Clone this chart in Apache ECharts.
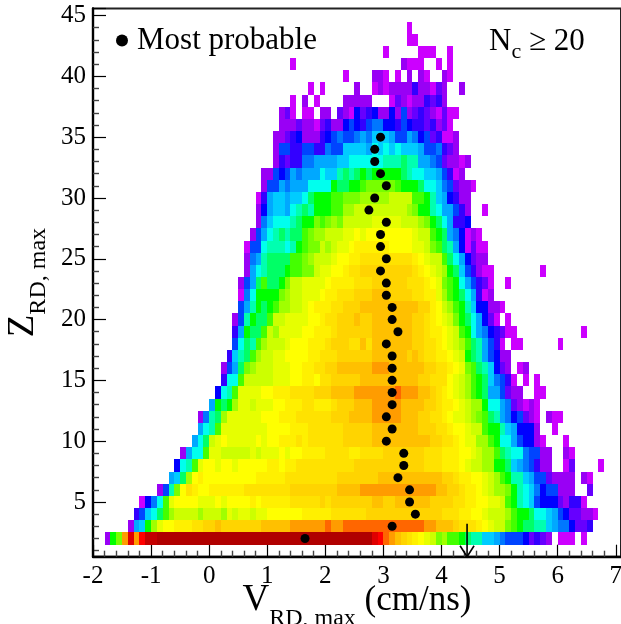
<!DOCTYPE html>
<html>
<head>
<meta charset="utf-8">
<style>html,body{margin:0;padding:0;background:#fff}#c{width:621px;height:624px}</style>
<script src="https://cdn.jsdelivr.net/npm/echarts@6/dist/echarts.min.js"></script>
</head>
<body>
<div id="c"></div>
<script>
// Colour-level letters, lowest to highest population; '.' is an empty bin.
const levelLetters = 'abcdefghijklmnopqrstuvwxyzABC';
const levelColors = ['#cc00ff','#9900f5','#6600ff','#3300ff','#0000ff','#0044ff','#0077ff','#00a8ff','#00ccff','#00ffee','#00ffb0','#00ff66','#00ff00','#44ff00','#77ff00','#a0ff00','#ccff00','#e6ff00','#ffff00','#fff000','#ffe200','#ffd400','#ffc000','#ff9c00','#ff6600','#ff0000','#e00000','#c40000','#b00000'];

// One list per Z bin: first V bin index (0 = -2.0 cm/ns, width 0.1), then letters.
const z44 = [54,'a'];
const z43 = [54,'aa'];
const z42 = [50,'a.....aaa..a'];
const z41 = [34,'a',53,'baaa..a.a'];
const z40 = [43,'a',48,'bba.a.b.ba..ba'];
const z39 = [37,'a.a',45,'b',48,'ababbbbdbbacb',63,'b'];
const z38 = [34,'a.b.a',43,'bbbbb',51,'acbabbdcdb'];
const z37 = [32,'bca.aa.bb.cbaecdebbebfbcdcbacaa'];
const z36 = [32,'bbbcbbacdbbefedfggeedfeddcdbca'];
const z35 = [31,'bbcdebbbdefgffghgiiihffhgefcdaab'];
const z34 = [31,'bffddffddgffiiiihjijijiiihffgdcb'];
const z33 = [31,'bdcddgghhhhiijjjjjjkkklkkhhgfcbbab'];
const z32 = [29,'bbfefhghhhjiiklklmlmmmmmlkjjiihfdab'];
const z31 = [29,'bffhghhhjjjjmllmmnooooonmmmljjigfcbba'];
const z30 = [28,'adhiihiijlmmmnnoooppppp'+'qqqqnnmkihedbb'];
const z29 = [28,'behiihjklkmmmnnpp'+'qqqqqqqqq'+'pommkjhhfdb'+'..a'];
const z28 = [28,'bgijjjklmmonopo'+'qqqqq'+'rrrrr'+'qqq'+'pomljhdde'];
const z27 = [27,'bfhjklkllnoppqqqrrsr'+'ssssssss'+'rqqnmlhgeaba'];
const z26 = [26,'affjkkkjkmnooqpqrrst'+'ttttt'+'ssss'+'rrqonlkheacaa'];
const z25 = [26,'bghkllllnnopqqqrsstt'+'uuuuuuuuu'+'tsrqqnljhecbb'];
const z24 = [26,'bhjklllmnnooqrrsstuu'+'vvvvvvvvv'+'utsrqpmlifdbaa',77,'a'];
const z23 = [25,'bfhlnllmoqqrrrrsttttu'+'uu'+'vvvvvv'+'uuu'+'tsronmjhfdca'+'..a'];
const z22 = [25,'agjmmmmopqqrrrsttuuuv'+'vv'+'www'+'vvvv'+'uu'+'ttrpnmljhdab'];
const z21 = [25,'fhkmlmnppqqrstttuuvvv'+'wwwwwwwwww'+'vv'+'tsqpnmkieebba'];
const z20 = [24,'bfkmllnqqrrrrsstuuvvvw'+'vv'+'wwwwwww'+'vv'+'utsrqomljheca'+'.a'];
const z19 = [24,'dhmllnqprrrrsstttuvvvv'+'vv'+'wwwwwww'+'vv'+'uttsrqnmjhgedcaa',84,'a'];
const z18 = [24,'fjlknpqqqrssstttuvvvuu'+'wu'+'wwwwwww'+'vv'+'uutsrqpnlkhfda'+'.aa',80,'a'];
const z17 = [23,'diklnpqqrrssssttuuuvvvvvv'+'wwwwww'+'vwv'+'uuttsrqmlkhfebb'];
const z16 = [22,'bfhlopqqqrrrssttuuvvwwwwww'+'xxx'+'wwwwww'+'vvuutsronlkiecb'+'.ab'];
const z15 = [22,'djjnqqqqqrrrssttsuuvvvvv'+'wwwwwwwwww'+'vv'+'uuusrqpnmligfda'+'.a.a'];
const z14 = [21,'ejknrrrrsstttuuuuvvvwwwwx'+'xxxxxx'+'y'+'xxx'+'wwvutsrqpnmlhhfcbb'+'..aa'];
const z13 = [20,'hmlmprrqrrrsstttuutttuvvv'+'www'+'xxxxx'+'wwww'+'vvuttsrqppmjjhgcbaba'];
const z12 = [18,'bgklp'+'rrrrrr'+'sss'+'ttt'+'uuuuuu'+'vvv'+'wwww'+'xxxxx'+'www'+'vv'+'uutsrrqponlkhgefcba'+'.baa'];
const z11 = [18,'hjkn'+'rrrrrrrr'+'ssss'+'ttt'+'uuuuuu'+'vvvvv'+'wwwwwwww'+'vvv'+'uutssrqqnmmkiheeeb'+'..a'];
const z10 = [17,'hjlqrs'+'rrrrr'+'srss'+'ttt'+'ut'+'uuuuuu'+'vvvvv'+'wwwwwwwwww'+'vv'+'uutsrrppnmjjhfeeba'+'...a'];
const z09 = [15,'bhjjnrr'+'qqqqq'+'rqrrrsrss'+'tttt'+'uuuu'+'tt'+'uuuu'+'vvvvvvv'+'uuu'+'ttt'+'ssrqppnlkjjgffbb'+'..ba'];
const z08 = [14,'ejknrssrssr'+'sssss'+'ttstt'+'uuuuuuuuuu'+'vvvvvvvvvvvv'+'uuuttt'+'srqqppmmlihgfdbb'+'..ac'+'....a'];
const z07 = [13,'hilpst'+'sssssssss'+'ttttt'+'uuuuuuuuu'+'vvvvvvv'+'wwwwwwwwwww'+'vvuttssrqpnmkkihffcbbbb'+'.ba'];
const z06 = [11,'bfkosutss'+'tttttt'+'uuuuuuuu'+'vvvvvvvv'+'wwww'+'xxxxxxxxxxxxx'+'wwvvuttsrqppomkjigeffbbb'+'..c'];
const z05 = [8,'aegjnr'+'ssss'+'rrr'+'sr'+'ssss'+'ts'+'ttttt'+'uuuuu'+'vu'+'vvvvvvv'+'wwvv'+'wwwwww'+'vvvv'+'uuttssrrqnmkjifeeecbdda'];
const z04 = [7,'dfijlnp'+'qqqq'+'p'+'qqq'+'prqrrqrr'+'ssssss'+'ttttt'+'uuuuuu'+'vvvvvvvvvvvvv'+'uuu'+'ttssrqqqpnmmljjihfeccbba'];
const z03 = [6,'bhimprsstttuuvvw'+'vvvvvvv'+'wwwww'+'xxxxxx'+'y'+'xx'+'yyyyyyyyyyyyyy'+'xx'+'www'+'vuuutsrqqonmllkkihggeccd'];
const z02 = [2,'bmoxAxzBB'+'CCCCCCCCCCCCCCCCCCCCCCCCCCCCCCCCCCCCC'+'Azyxwvutsrqopnnmlkkiihgfffecdcb.aaa.a'];
const zRows = [[2,z02],[3,z03],[4,z04],[5,z05],[6,z06],[7,z07],[8,z08],[9,z09],[10,z10],[11,z11],[12,z12],[13,z13],[14,z14],[15,z15],[16,z16],[17,z17],[18,z18],[19,z19],[20,z20],[21,z21],[22,z22],[23,z23],[24,z24],[25,z25],[26,z26],[27,z27],[28,z28],[29,z29],[30,z30],[31,z31],[32,z32],[33,z33],[34,z34],[35,z35],[36,z36],[37,z37],[38,z38],[39,z39],[40,z40],[41,z41],[42,z42],[43,z43],[44,z44]];

// Most probable V per Z bin
const probableZ = [2,3,4,5,6,7,8,9,10,11,12,13,14,15,16,17,18,19,20,21,22,23,24,25,26,27,28,29,30,31,32,33,34,35];
const probableV = [1.65,3.15,3.55,3.45,3.45,3.25,3.35,3.35,3.05,3.15,3.05,3.15,3.15,3.15,3.15,3.15,3.05,3.25,3.15,3.15,3.05,3.05,2.95,3.05,2.95,2.95,3.05,2.75,2.85,3.05,2.95,2.85,2.85,2.95];
const arrowV = 4.44;
const arrowZTop = 3.2;

const cells = [];
zRows.forEach(([z, row]) => {
  for (let s = 0; s < row.length; s += 2) {
    const start = row[s], letters = row[s + 1];
    for (let k = 0; k < letters.length; k++) {
      if (letters[k] === '.') continue;
      cells.push([Math.round((start + k) - 20) / 10, z, levelLetters.indexOf(letters[k])]);
    }
  }
});

const serif = '"Liberation Serif", "Times New Roman", serif';
const chart = echarts.init(document.getElementById('c'), null, {renderer: 'canvas'});
chart.setOption({
  animation: false,
  backgroundColor: '#fff',
  textStyle: {fontFamily: serif, color: '#000'},
  title: {
    left: 484, top: 16,
    text: '{n|N}{c|c}{r| ≥ 20}',
    textStyle: {
      fontWeight: 'normal',
      rich: {
        n: {fontFamily: serif, fontWeight: 'normal', fontSize: 31, color: '#000'},
        c: {fontFamily: serif, fontWeight: 'normal', fontSize: 22, color: '#000', padding: [20, 0, 0, 0]},
        r: {fontFamily: serif, fontWeight: 'normal', fontSize: 31, color: '#000'}
      }
    }
  },
  legend: {
    left: 111, top: 20, itemWidth: 12, itemHeight: 12, itemGap: 0,
    data: [{name: 'Most probable', icon: 'circle', itemStyle: {color: '#000'}}],
    textStyle: {fontFamily: serif, fontSize: 31, color: '#000', padding: [0, 0, 0, 4]},
    selectedMode: false
  },
  grid: {left: 93, right: 0, top: 8.5, height: 548.2, outerBoundsMode: 'none', show: true, borderColor: '#222', borderWidth: 2, backgroundColor: '#fff'},
  xAxis: {
    type: 'value', min: -2, max: 7.09, interval: 1,
    splitLine: {show: false},
    axisLine: {onZero: false, lineStyle: {color: '#000', width: 2.4}},
    axisTick: {inside: true, length: 12, lineStyle: {color: '#000', width: 1.2}},
    minorTick: {show: true, splitNumber: 5, length: 6, lineStyle: {color: '#444', width: 1.4}},
    axisLabel: {fontFamily: serif, fontSize: 25, color: '#000', margin: 7, hideOverlap: false,
      formatter: v => Number.isInteger(v) ? String(v) : ''},
    name: '{v|V}{s|RD, max}{u| (cm/ns)}',
    nameLocation: 'middle', nameGap: 14, nameMoveOverlap: false,
    nameTextStyle: {rich: {
      v: {fontFamily: serif, fontSize: 37, color: '#000'},
      s: {fontFamily: serif, fontSize: 24, color: '#000', padding: [36, 0, 0, 0]},
      u: {fontFamily: serif, fontSize: 35, color: '#000'}
    }}
  },
  yAxis: {
    type: 'value', min: 0.5, max: 45.58, splitNumber: 9,
    splitLine: {show: false},
    axisLine: {onZero: false, lineStyle: {color: '#000', width: 2.4}},
    axisTick: {inside: true, length: 13, lineStyle: {color: '#000', width: 1.2}},
    minorTick: {show: true, splitNumber: 5, length: 6, lineStyle: {color: '#444', width: 1.4}},
    axisLabel: {fontFamily: serif, fontSize: 25, color: '#000', margin: 7,
      formatter: v => (v % 5 === 0) ? String(v) : ''},
    name: '{v|Z}{s|RD, max}',
    nameLocation: 'middle', nameGap: 42, nameRotate: 90, nameMoveOverlap: false,
    nameTextStyle: {rich: {
      v: {fontFamily: serif, fontSize: 37, color: '#000'},
      s: {fontFamily: serif, fontSize: 24, color: '#000', padding: [32, 0, 0, 0]}
    }}
  },
  series: [
    {
      name: 'cells', type: 'custom', silent: true, progressive: 0, z: 1,
      data: cells, encode: {x: 0, y: 1},
      renderItem: (params, api) => {
        const v = api.value(0), z = api.value(1), lvl = api.value(2);
        const a = api.coord([v, z + 0.5]);
        const b = api.coord([v + 0.1, z - 0.5]);
        const x0 = Math.round(a[0]), y0 = Math.round(a[1]);
        return {type: 'rect', shape: {x: x0, y: y0, width: Math.round(b[0]) - x0, height: Math.round(b[1]) - y0},
          style: {fill: levelColors[lvl]}};
      }
    },
    {
      name: 'Most probable', type: 'scatter', symbol: 'circle', symbolSize: 9, z: 3,
      itemStyle: {color: '#000', opacity: 1},
      data: probableV.map((v, i) => [v, probableZ[i]])
    },
    {
      name: 'arrow', type: 'custom', silent: true, z: 4, clip: false,
      data: [[arrowV, arrowZTop]], encode: {x: 0, y: 1},
      renderItem: (params, api) => {
        const top = api.coord([api.value(0), api.value(1)]);
        const tip = api.coord([api.value(0), 0.5]);
        const st = {stroke: '#000', lineWidth: 1.6, fill: null};
        return {type: 'group', children: [
          {type: 'line', shape: {x1: top[0], y1: top[1], x2: tip[0], y2: tip[1]}, style: st},
          {type: 'polyline', shape: {points: [[tip[0] - 7, tip[1] - 11], [tip[0], tip[1]], [tip[0] + 7, tip[1] - 11]]}, style: st}
        ]};
      }
    }
  ]
});
</script>
</body>
</html>
